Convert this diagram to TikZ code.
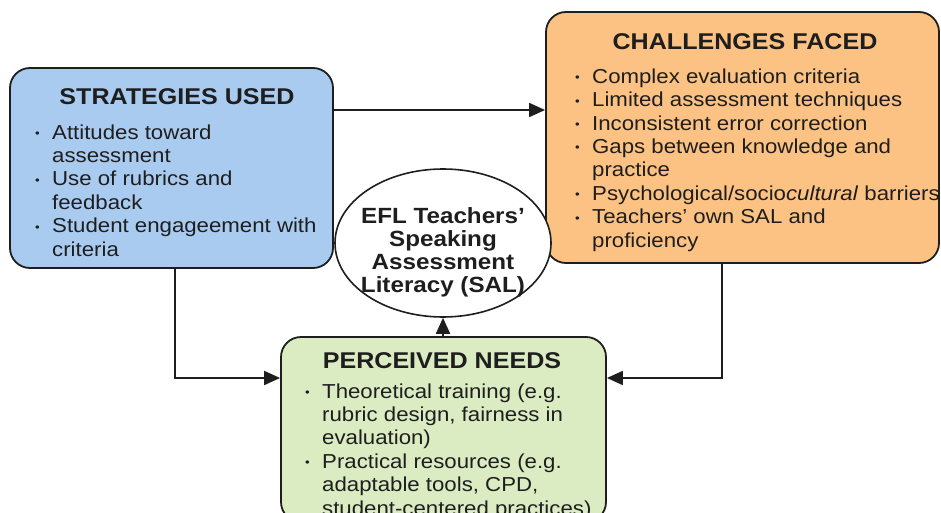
\documentclass[tikz,border=0pt]{standalone}
\usepackage{fontspec}
\setmainfont{Liberation Sans}[FakeStretch=1.1]
\usetikzlibrary{arrows.meta,shapes.geometric}
\definecolor{ink}{HTML}{1E1E1E}
\definecolor{bluefill}{HTML}{AACBF0}
\definecolor{orangefill}{HTML}{FCC283}
\definecolor{greenfill}{HTML}{DBECC3}
\newcommand{\bul}{\llap{\makebox[17pt][l]{\raisebox{1.5pt}{\fontsize{12}{12}\selectfont\textbullet}}}}
\tikzset{
  panel/.style={draw=ink, line width=1.8pt, rounded corners=20pt, inner sep=0pt},
  heading/.style={font=\fontsize{22.8}{24}\selectfont\bfseries, text=ink, inner sep=0pt, anchor=base},
  % a multi-line node is placed by the baseline of its last line
  listing/.style={font=\fontsize{20.2}{23.4}\selectfont, text=ink, inner sep=0pt, align=left, anchor=base west},
  link/.style={draw=ink, line width=1.8pt, -{Triangle[length=16pt,width=14pt]}}
}
\begin{document}
\begin{tikzpicture}[x=1pt,y=-1pt]
\useasboundingbox (0,0) rectangle (941,513);
\fill[white] (0,0) rectangle (941,513);
\clip (0,0) rectangle (941,513);

% three boxes and the central ellipse
\node[panel, fill=bluefill, minimum width=323pt, minimum height=200pt] (strat) at (171.5,168) {};
\node[panel, fill=orangefill, minimum width=393pt, minimum height=251pt] (chal) at (742.5,137.5) {};
\node[panel, fill=greenfill, minimum width=325pt, minimum height=185pt] (need) at (443.5,429.5) {};
\node[draw=ink, line width=1.6pt, fill=white, minimum width=216pt, minimum height=148pt, ellipse, inner sep=0pt] (sal) at (443,243) {};

% box contents
\node[heading] (stratT) at (177,105) {STRATEGIES USED};
\node[listing] (stratL) at (52,256) {\bul Attitudes toward\\ assessment\\ \bul Use of rubrics and\\ feedback\\ \bul Student engageement with\\ criteria};

\node[heading] (chalT) at (745,50) {CHALLENGES FACED};
\node[listing] (chalL) at (592,247) {\bul Complex evaluation criteria\\ \bul Limited assessment techniques\\ \bul Inconsistent error correction\\ \bul Gaps between knowledge and\\ practice\\ \bul Psychological/socio\textit{cultural} barriers\\ \bul Teachers' own SAL and\\ proficiency};

\node[heading] (needT) at (442,368) {PERCEIVED NEEDS};
\node[listing] (needL) at (322,515) {\bul Theoretical training (e.g.\\ rubric design, fairness in\\ evaluation)\\ \bul Practical resources (e.g.\\ adaptable tools, CPD,\\ student-centered practices)};

\node[font=\fontsize{22}{23}\selectfont\bfseries, text=ink, align=center, inner sep=0pt, anchor=base] (salT) at (443,292) {EFL Teachers'\\ Speaking\\ Assessment\\ Literacy (SAL)};

% connectors
\coordinate (bend1) at (175,378);
\coordinate (bend2) at (722,378);
\draw[link] (strat.east |- 0,110) -- (chal.west |- 0,110);
\draw[link] (strat.south -| bend1) -- (bend1) -- (need.west |- bend1);
\draw[link] (chal.south -| bend2) -- (bend2) -- (need.east |- bend2);
\draw[link] (need.north -| sal.south) -- (sal.south);
\end{tikzpicture}
\end{document}
